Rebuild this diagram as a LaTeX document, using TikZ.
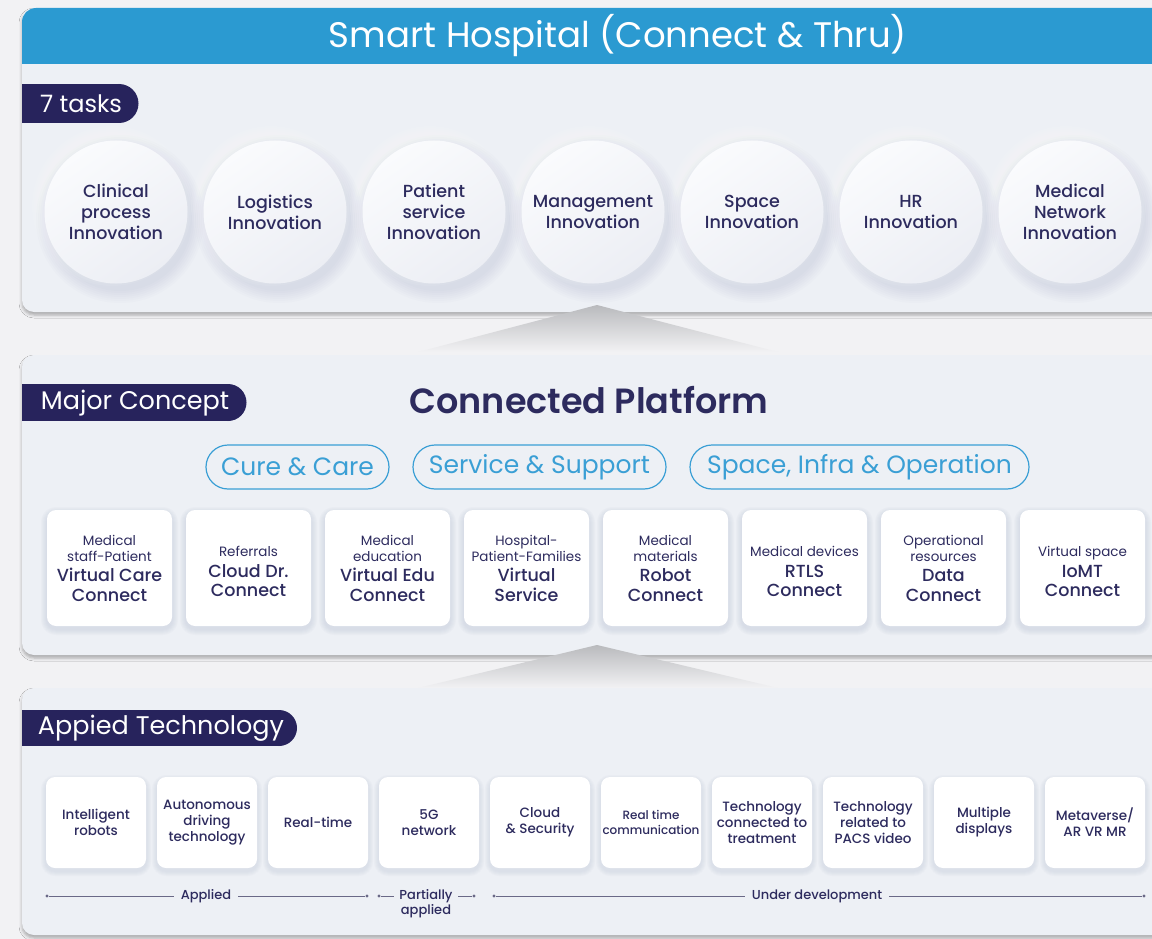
\documentclass[tikz,border=0pt]{standalone}
\usepackage{fontspec}
\setmainfont{Poppins}
\newfontfamily\medfont{Poppins Medium}
\newfontfamily\semifont{Poppins SemiBold}
\usetikzlibrary{shadows.blur}
\definecolor{bg}{HTML}{F2F2F4}
\definecolor{panel}{HTML}{EDF0F5}
\definecolor{hblue}{HTML}{2B9AD1}
\definecolor{navy}{HTML}{27235C}
\definecolor{ink}{HTML}{2D2B5E}
\definecolor{pblue}{HTML}{3A9FD5}
\definecolor{cfilla}{HTML}{FAFBFD}
\definecolor{cfillb}{HTML}{ECEEF4}
\definecolor{shc}{HTML}{8E98B8}
\definecolor{tline}{HTML}{6A6987}
\definecolor{tri}{HTML}{B9BABD}
\newcommand{\fsz}[2]{\fontsize{#1}{#2}\selectfont}
\tikzset{
  panelbox/.style={fill=panel, rounded corners=12, blur shadow={shadow xshift=0pt, shadow yshift=-3pt, shadow blur radius=3pt, shadow opacity=30}},
  badgetext/.style={text=white, font=\fsz{24}{28}, inner sep=0pt},
  task/.style={circle, minimum size=143pt, top color=cfilla, bottom color=cfillb, shading angle=35, text=ink, align=center, font=\medfont\fsz{17.5}{21}, inner sep=0pt},
  pill/.style={draw=pblue, line width=1.2pt, rounded corners=22, minimum height=44pt, text=pblue, font=\fsz{25}{30}, inner xsep=12pt, fill=panel},
  card/.style={fill=white, rounded corners=9, minimum width=125pt, minimum height=116pt, text=ink, align=center, inner sep=0pt, font=\fsz{13.5}{16}},
  cardtext/.style={text=ink, align=center, font=\fsz{13.5}{16}},
  tech/.style={fill=white, rounded corners=9, minimum width=100pt, minimum height=91pt, text=ink, align=center, inner sep=0pt, font=\medfont\fsz{13.5}{16}},
  tldot/.style={circle, fill=tline, inner sep=0pt, minimum size=3.2pt},
  tlline/.style={draw=tline, line width=0.8pt},
  tllabel/.style={fill=panel, text=ink, font=\medfont\fsz{13}{15}, inner xsep=7pt, inner ysep=1pt, align=center},
}
\newcommand{\bg}{\medfont\fsz{17.5}{20}}
\begin{document}
\begin{tikzpicture}[x=1pt,y=-1pt]
\useasboundingbox (0,0) rectangle (1152,939);
\clip (0,0) rectangle (1152,939);
\fill[bg] (0,0) rectangle (1152,939);

% ---------- panel 1
\path[panelbox] (22,8) rectangle (1190,312);
\fill[hblue, rounded corners=14] (22,8) rectangle (1190,64);
\fill[hblue] (22,40) rectangle (1190,64);
\node[text=white, font=\fsz{35.5}{40}] (title) at (618,36) {Smart Hospital (Connect \& Thru)};

\fill[navy] (22,84) rectangle (119,123);
\fill[navy] (119,103.5) circle (19.5);
\node[badgetext] (tasks) at (81,104) {7 tasks};

% soft shadows / highlights of the task circles
\foreach \cx in {116,275,434,593,752,911,1070}{
  \foreach \r in {72,74,...,84}{
    \fill[shc, opacity=0.028] (\cx+4,219) circle (\r);
  }
  \foreach \r in {72,74,...,80}{
    \fill[white, opacity=0.07] (\cx-4,206) circle (\r);
  }
}
\node[task] (c1) at (116,212) {Clinical\\process\\Innovation};
\node[task] (c2) at (275,212) {Logistics\\Innovation};
\node[task] (c3) at (434,212) {Patient\\service\\Innovation};
\node[task] (c4) at (593,212) {Management\\Innovation};
\node[task] (c5) at (752,212) {Space\\Innovation};
\node[task] (c6) at (911,212) {HR\\Innovation};
\node[task] (c7) at (1070,212) {Medical\\Network\\Innovation};

% ---------- triangle 1
\shade[top color=tri, bottom color=bg] (597,305) -- (778,352) -- (418,352) -- cycle;

% ---------- panel 2
\path[panelbox] (22,355) rectangle (1190,655);
\fill[navy] (22,384) rectangle (228,421);
\fill[navy] (228,402.5) circle (18.5);
\node[badgetext, font=\fsz{25.5}{30}] (major) at (135,403) {Major Concept};
\node[text=ink, font=\semifont\fsz{35}{42}] (platform) at (589,400) {Connected Platform};

\node[pill, minimum width=183pt] (cure) at (297.5,467) {Cure \& Care};
\node[pill, minimum width=253pt] (service) at (539.5,467) {Service \& Support};
\node[pill, minimum width=339pt] (space) at (859.5,467) {Space, Infra \& Operation};

\foreach \cx in {109.5,248.5,387.5,526.5,665.5,804.5,943.5,1082.5}{
  \foreach \e in {1,2,...,6}{
    \fill[shc, opacity=0.035, rounded corners=9+\e] (\cx-62.5-\e,510-\e+3) rectangle (\cx+62.5+\e,626+\e+3);
  }
}
\node[card] (k1) at (109.5,568) {Medical\\staff-Patient\\[4pt]\bg Virtual Care\\[4pt]\bg Connect};
\node[card] (k2) at (248.5,568) {};
\node[cardtext] (k2t) at (248.5,571) {Referrals\\[5pt]\bg Cloud Dr.\\[3pt]\bg Connect};
\node[card] (k3) at (387.5,568) {Medical\\education\\[4pt]\bg Virtual Edu\\[4pt]\bg Connect};
\node[card] (k4) at (526.5,568) {Hospital-\\Patient-Families\\[4pt]\bg Virtual\\[4pt]\bg Service};
\node[card] (k5) at (665.5,568) {Medical\\materials\\[4pt]\bg Robot\\[4pt]\bg Connect};
\node[card] (k6) at (804.5,568) {};
\node[cardtext] (k6t) at (804.5,571) {Medical devices\\[5pt]\bg RTLS\\[3pt]\bg Connect};
\node[card] (k7) at (943.5,568) {Operational\\resources\\[4pt]\bg Data\\[4pt]\bg Connect};
\node[card] (k8) at (1082.5,568) {};
\node[cardtext] (k8t) at (1082.5,571) {Virtual space\\[5pt]\bg IoMT\\[3pt]\bg Connect};

% ---------- triangle 2
\shade[top color=tri, bottom color=bg] (597,645) -- (778,688) -- (418,688) -- cycle;

% ---------- panel 3
\path[panelbox] (22,688) rectangle (1190,935);
\fill[navy] (22,710) rectangle (279,746);
\fill[navy] (279,728) circle (18);
\node[badgetext, font=\fsz{25.5}{30}] (tech) at (161,728) {Appied Technology};

\foreach \cx in {96,207,318,429,540,651,762,873,984,1095}{
  \foreach \e in {1,2,...,5}{
    \fill[shc, opacity=0.035, rounded corners=9+\e] (\cx-50-\e,777-\e+3) rectangle (\cx+50+\e,868+\e+3);
  }
}
\node[tech] (a1) at (96,822.5) {Intelligent\\robots};
\node[tech] (a2) at (207,822.5) {Autonomous\\driving\\technology};
\node[tech] (a3) at (318,822.5) {Real-time};
\node[tech] (a4) at (429,822.5) {5G\\network};
\node[tech] (a5) at (540,822.5) {Cloud\\\& Security};
\node[tech, font=\medfont\fsz{12}{15}] (a6) at (651,822.5) {Real time\\communication};
\node[tech] (a7) at (762,822.5) {Technology\\connected to\\treatment};
\node[tech] (a8) at (873,822.5) {Technology\\related to\\PACS video};
\node[tech] (a9) at (984,822.5) {Multiple\\displays};
\node[tech] (a10) at (1095,822.5) {Metaverse/\\AR VR MR};

% ---------- timeline
\node[tldot] (d1) at (47,896) {};
\node[tldot] (d2) at (367,896) {};
\node[tldot] (d3) at (379,896) {};
\node[tldot] (d4) at (474,896) {};
\node[tldot] (d5) at (494,896) {};
\node[tldot] (d6) at (1144,896) {};
\draw[tlline] (d1) -- (d2);
\draw[tlline] (d3) -- (d4);
\draw[tlline] (d5) -- (d6);
\node[tllabel] (lab1) at (206,896) {Applied};
\node[tllabel, inner xsep=5pt, anchor=north] (lab2) at (426,888) {Partially\\applied};
\node[tllabel] (lab3) at (817,896) {Under development};
\end{tikzpicture}
\end{document}
